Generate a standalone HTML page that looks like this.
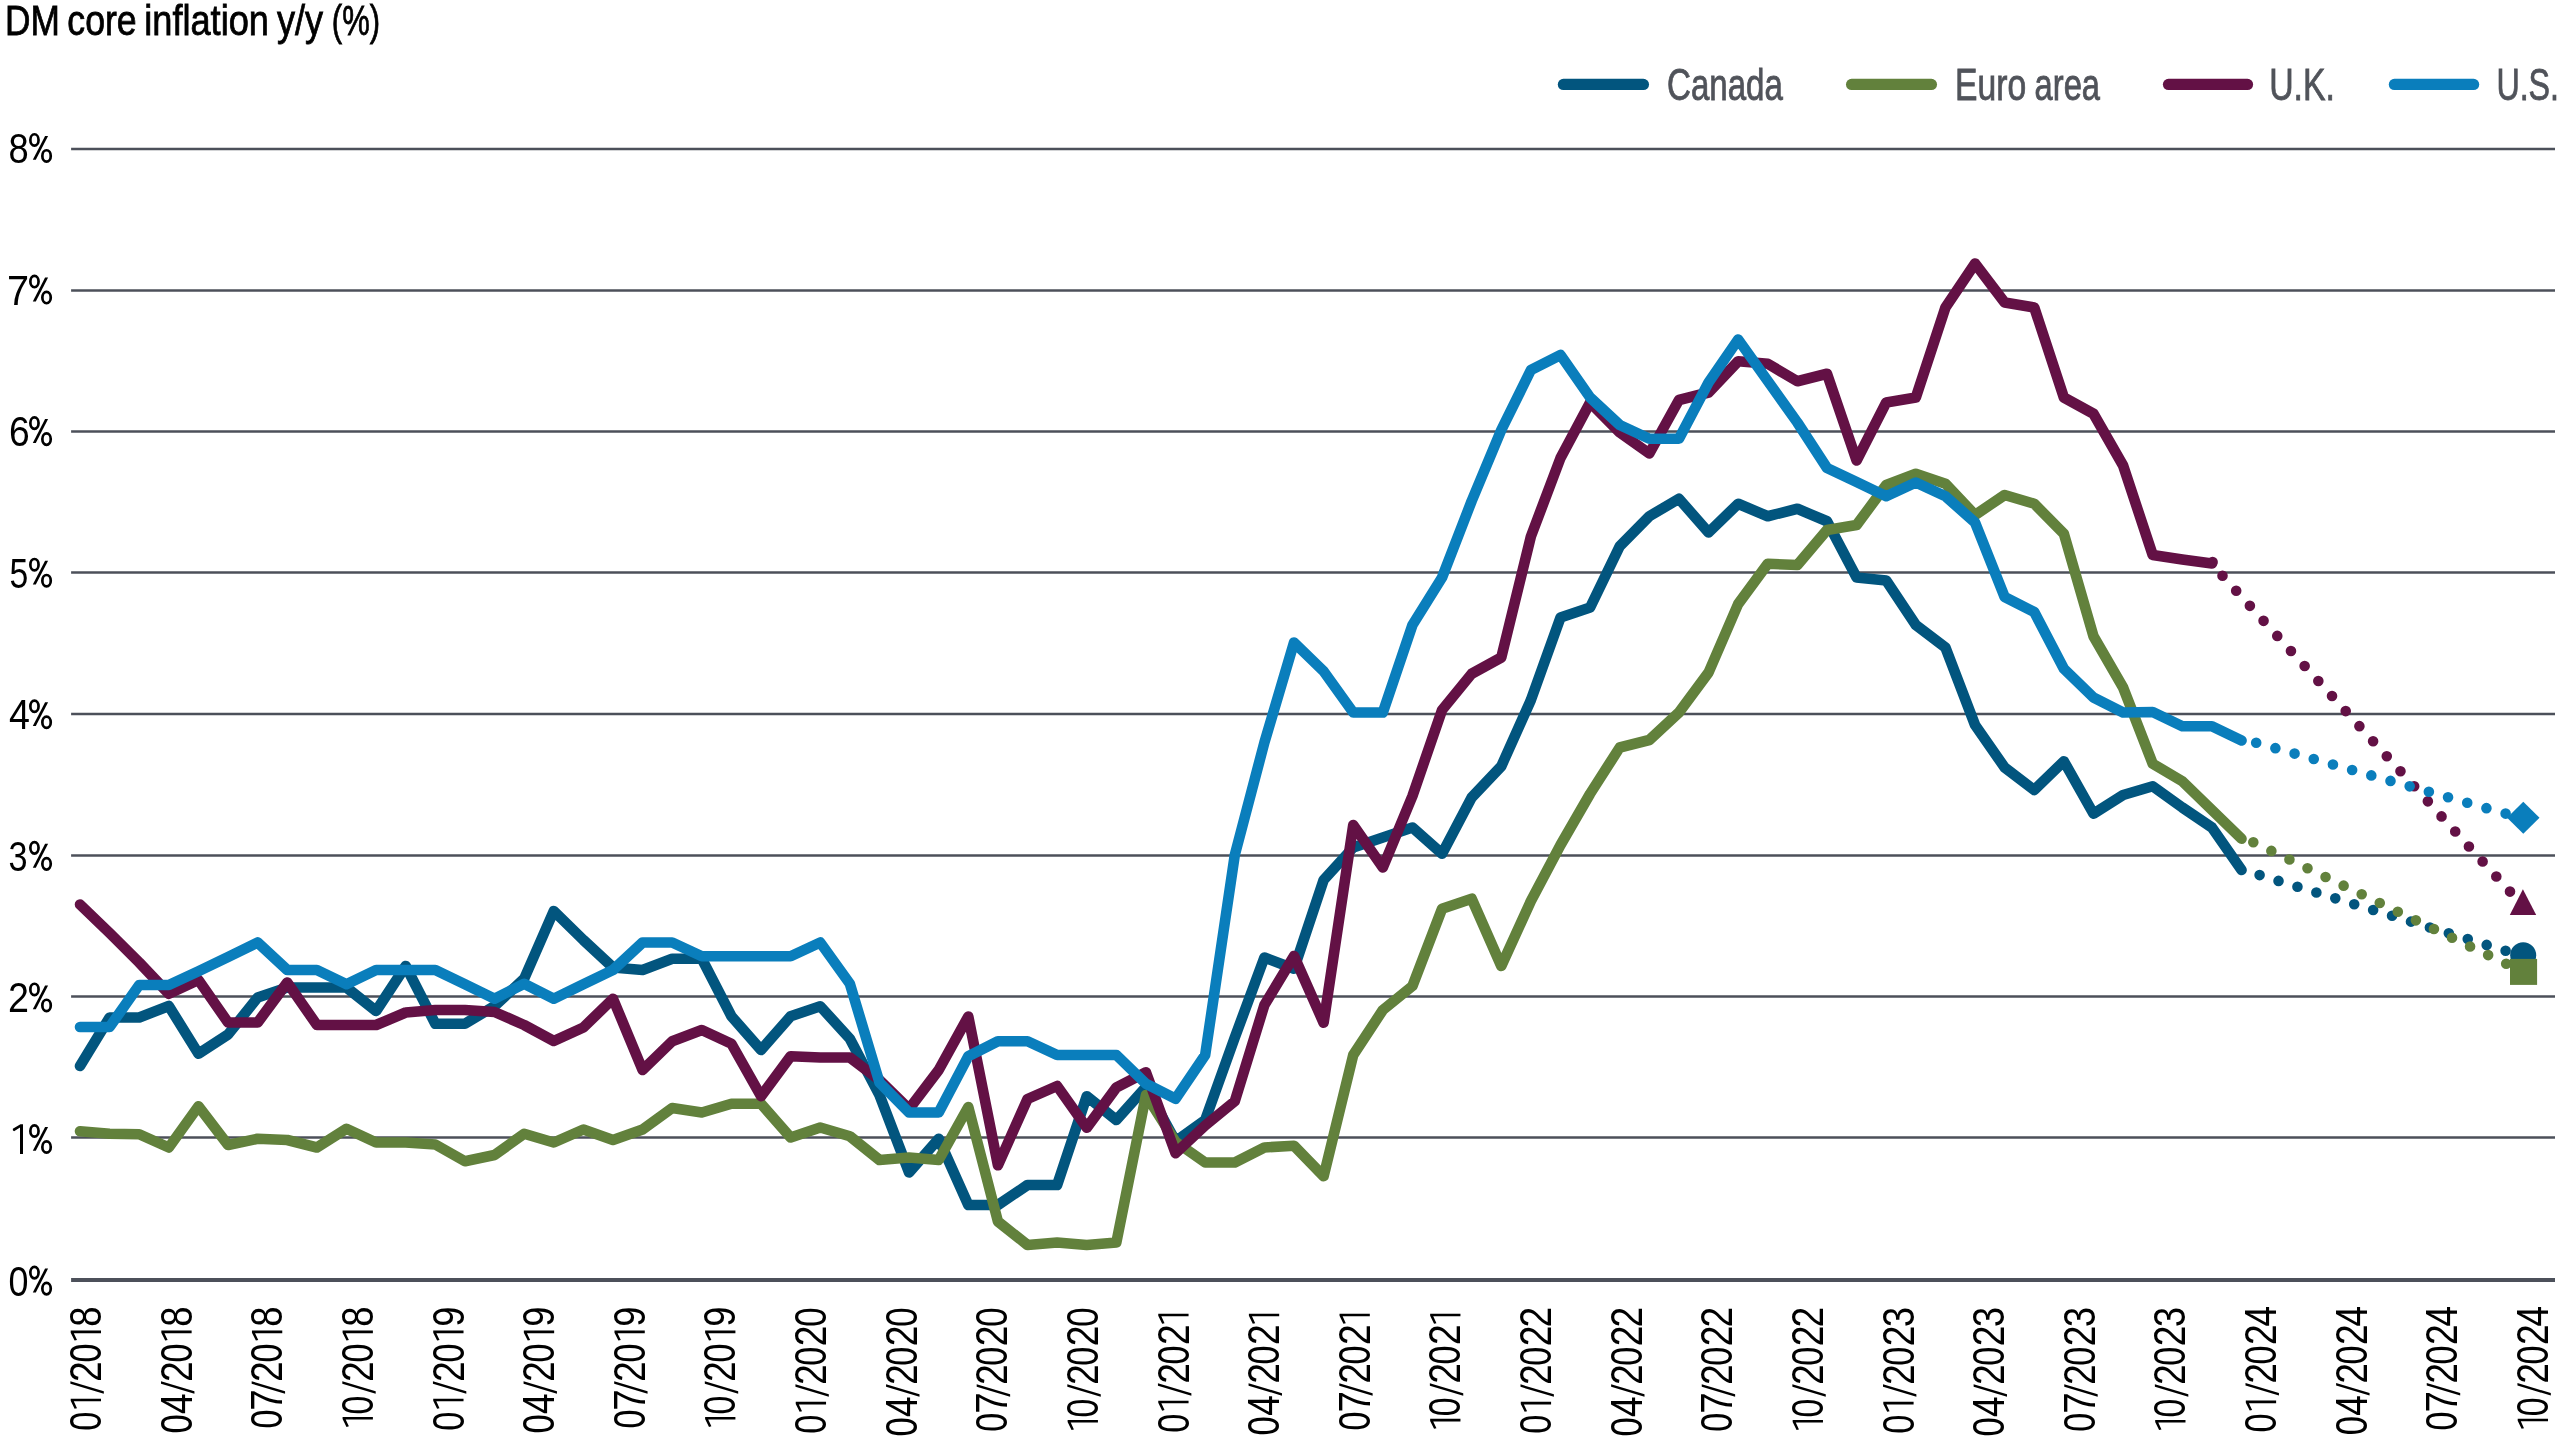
<!DOCTYPE html>
<html><head><meta charset="utf-8"><title>DM core inflation</title>
<style>html,body{margin:0;padding:0;background:#fff;}svg{display:block;will-change:transform;}text{font-family:"Liberation Sans",sans-serif;}</style>
</head><body>
<svg xmlns="http://www.w3.org/2000/svg" width="2560" height="1440" viewBox="0 0 2560 1440">
<rect width="2560" height="1440" fill="#ffffff"/>
<line x1="71.1" y1="149.00" x2="2555.0" y2="149.00" stroke="#4c505a" stroke-width="2.7"/>
<line x1="71.1" y1="290.50" x2="2555.0" y2="290.50" stroke="#4c505a" stroke-width="2.7"/>
<line x1="71.1" y1="431.50" x2="2555.0" y2="431.50" stroke="#4c505a" stroke-width="2.7"/>
<line x1="71.1" y1="572.50" x2="2555.0" y2="572.50" stroke="#4c505a" stroke-width="2.7"/>
<line x1="71.1" y1="714.00" x2="2555.0" y2="714.00" stroke="#4c505a" stroke-width="2.7"/>
<line x1="71.1" y1="855.50" x2="2555.0" y2="855.50" stroke="#4c505a" stroke-width="2.7"/>
<line x1="71.1" y1="996.50" x2="2555.0" y2="996.50" stroke="#4c505a" stroke-width="2.7"/>
<line x1="71.1" y1="1137.50" x2="2555.0" y2="1137.50" stroke="#4c505a" stroke-width="2.7"/>
<line x1="71.1" y1="1280" x2="2555.0" y2="1280" stroke="#4c505a" stroke-width="4"/>
<text transform="translate(4.94,34.80) scale(0.8166,1)" font-size="43.2" fill="#000000" stroke="#000" stroke-width="0.8">DM</text>
<text transform="translate(67.31,34.80) scale(0.8255,1)" font-size="43.2" fill="#000000" stroke="#000" stroke-width="0.8">core</text>
<text transform="translate(144.19,34.80) scale(0.8383,1)" font-size="43.2" fill="#000000" stroke="#000" stroke-width="0.8">inflation</text>
<text transform="translate(276.89,34.80) scale(0.8364,1)" font-size="43.2" fill="#000000" stroke="#000" stroke-width="0.8">y/y</text>
<text transform="translate(331.83,34.80) scale(0.7174,1)" font-size="43.2" fill="#000000" stroke="#000" stroke-width="0.8">(%)</text>
<text transform="translate(8.42,163.00) scale(0.8444,1)" font-size="43.0" fill="#000000">8</text>
<g transform="translate(0,163.00)" fill="none" stroke="#000000" stroke-width="2.7"><ellipse cx="34.45" cy="-23.05" rx="4.1" ry="5.7"/><ellipse cx="46.55" cy="-7.05" rx="4.2" ry="5.7"/><path d="M45.1,-27.1 L48.1,-27.1 L35.8,-3.2 L32.8,-3.2 Z" fill="#000000" stroke="none"/></g>
<text transform="translate(6.92,304.58) scale(0.9231,1)" font-size="43.0" fill="#000000">7</text>
<g transform="translate(0,304.58)" fill="none" stroke="#000000" stroke-width="2.7"><ellipse cx="34.45" cy="-23.05" rx="4.1" ry="5.7"/><ellipse cx="46.55" cy="-7.05" rx="4.2" ry="5.7"/><path d="M45.1,-27.1 L48.1,-27.1 L35.8,-3.2 L32.8,-3.2 Z" fill="#000000" stroke="none"/></g>
<text transform="translate(8.95,446.16) scale(0.8658,1)" font-size="43.0" fill="#000000">6</text>
<g transform="translate(0,446.16)" fill="none" stroke="#000000" stroke-width="2.7"><ellipse cx="34.45" cy="-23.05" rx="4.1" ry="5.7"/><ellipse cx="46.55" cy="-7.05" rx="4.2" ry="5.7"/><path d="M45.1,-27.1 L48.1,-27.1 L35.8,-3.2 L32.8,-3.2 Z" fill="#000000" stroke="none"/></g>
<text transform="translate(9.53,587.74) scale(0.7854,1)" font-size="43.0" fill="#000000">5</text>
<g transform="translate(0,587.74)" fill="none" stroke="#000000" stroke-width="2.7"><ellipse cx="34.45" cy="-23.05" rx="4.1" ry="5.7"/><ellipse cx="46.55" cy="-7.05" rx="4.2" ry="5.7"/><path d="M45.1,-27.1 L48.1,-27.1 L35.8,-3.2 L32.8,-3.2 Z" fill="#000000" stroke="none"/></g>
<text transform="translate(9.03,729.32) scale(0.8736,1)" font-size="43.0" fill="#000000">4</text>
<g transform="translate(0,729.32)" fill="none" stroke="#000000" stroke-width="2.7"><ellipse cx="34.45" cy="-23.05" rx="4.1" ry="5.7"/><ellipse cx="46.55" cy="-7.05" rx="4.2" ry="5.7"/><path d="M45.1,-27.1 L48.1,-27.1 L35.8,-3.2 L32.8,-3.2 Z" fill="#000000" stroke="none"/></g>
<text transform="translate(8.51,870.90) scale(0.7951,1)" font-size="43.0" fill="#000000">3</text>
<g transform="translate(0,870.90)" fill="none" stroke="#000000" stroke-width="2.7"><ellipse cx="34.45" cy="-23.05" rx="4.1" ry="5.7"/><ellipse cx="46.55" cy="-7.05" rx="4.2" ry="5.7"/><path d="M45.1,-27.1 L48.1,-27.1 L35.8,-3.2 L32.8,-3.2 Z" fill="#000000" stroke="none"/></g>
<text transform="translate(7.93,1012.48) scale(0.8769,1)" font-size="43.0" fill="#000000">2</text>
<g transform="translate(0,1012.48)" fill="none" stroke="#000000" stroke-width="2.7"><ellipse cx="34.45" cy="-23.05" rx="4.1" ry="5.7"/><ellipse cx="46.55" cy="-7.05" rx="4.2" ry="5.7"/><path d="M45.1,-27.1 L48.1,-27.1 L35.8,-3.2 L32.8,-3.2 Z" fill="#000000" stroke="none"/></g>
<path transform="translate(12.85,1154.06)" d="M7.15,0 L10.15,0 L10.15,-29.9 L7.6,-29.9 L0,-25.3 L0,-23.9 L1.2,-22.9 L7.15,-26.6 Z" fill="#000000"/>
<g transform="translate(0,1154.06)" fill="none" stroke="#000000" stroke-width="2.7"><ellipse cx="34.45" cy="-23.05" rx="4.1" ry="5.7"/><ellipse cx="46.55" cy="-7.05" rx="4.2" ry="5.7"/><path d="M45.1,-27.1 L48.1,-27.1 L35.8,-3.2 L32.8,-3.2 Z" fill="#000000" stroke="none"/></g>
<text transform="translate(8.44,1295.64) scale(0.8341,1)" font-size="43.0" fill="#000000">0</text>
<g transform="translate(0,1295.64)" fill="none" stroke="#000000" stroke-width="2.7"><ellipse cx="34.45" cy="-23.05" rx="4.1" ry="5.7"/><ellipse cx="46.55" cy="-7.05" rx="4.2" ry="5.7"/><path d="M45.1,-27.1 L48.1,-27.1 L35.8,-3.2 L32.8,-3.2 Z" fill="#000000" stroke="none"/></g>
<line x1="1563.4" y1="84.45" x2="1643.4" y2="84.45" stroke="#02557e" stroke-width="11.25" stroke-linecap="round"/>
<line x1="1851.6" y1="84.45" x2="1931.4" y2="84.45" stroke="#62813c" stroke-width="11.25" stroke-linecap="round"/>
<line x1="2168.5" y1="84.45" x2="2247.5" y2="84.45" stroke="#631145" stroke-width="11.25" stroke-linecap="round"/>
<line x1="2394.4" y1="84.45" x2="2473.6" y2="84.45" stroke="#0a7ebc" stroke-width="11.25" stroke-linecap="round"/>
<text transform="translate(1667.04,99.70) scale(0.7604,1)" font-size="43.5" fill="#50535a" stroke="#50535a" stroke-width="0.8">Canada</text>
<text transform="translate(1955.09,99.90) scale(0.7746,1)" font-size="43.5" fill="#50535a" stroke="#50535a" stroke-width="0.8">Euro</text>
<text transform="translate(2034.58,99.70) scale(0.7519,1)" font-size="43.5" fill="#50535a" stroke="#50535a" stroke-width="0.8">area</text>
<text transform="translate(2269.17,99.80) scale(0.7781,1)" font-size="43.5" fill="#50535a" stroke="#50535a" stroke-width="0.8">U.K.</text>
<text transform="translate(2496.39,99.80) scale(0.7406,1)" font-size="43.5" fill="#50535a" stroke="#50535a" stroke-width="0.8">U.S.</text>
<path d="M80.00,1066.00 L109.61,1017.50 L139.22,1017.50 L168.83,1006.00 L198.44,1053.75 L228.05,1034.50 L257.66,997.50 L287.27,987.50 L316.88,987.50 L346.49,987.50 L376.10,1011.00 L405.71,966.00 L435.32,1023.75 L464.93,1023.75 L494.54,1006.00 L524.15,978.75 L553.76,911.00 L583.37,940.00 L612.98,967.50 L642.59,970.00 L672.20,958.75 L701.81,958.75 L731.42,1016.25 L761.03,1050.00 L790.64,1016.25 L820.25,1006.25 L849.86,1038.75 L879.47,1095.00 L909.08,1172.50 L938.69,1138.75 L968.30,1205.00 L997.91,1205.00 L1027.52,1185.00 L1057.13,1185.00 L1086.74,1096.25 L1116.35,1120.00 L1145.96,1087.00 L1175.57,1141.25 L1205.18,1120.00 L1234.79,1037.50 L1264.40,957.50 L1294.01,968.75 L1323.62,880.00 L1353.23,847.50 L1382.84,837.50 L1412.45,827.50 L1442.06,853.75 L1471.67,797.50 L1501.28,766.25 L1530.89,700.00 L1560.50,617.50 L1590.11,607.50 L1619.72,546.25 L1649.33,516.25 L1678.94,498.75 L1708.55,532.50 L1738.16,503.75 L1767.77,516.25 L1797.38,508.75 L1826.99,521.25 L1856.60,577.50 L1886.21,580.50 L1915.82,625.00 L1945.43,647.50 L1975.04,725.00 L2004.65,767.50 L2034.26,790.00 L2063.87,761.25 L2093.48,813.75 L2123.09,795.00 L2152.70,786.25 L2182.31,807.50 L2211.92,827.50 L2241.53,870.00" fill="none" stroke="#02557e" stroke-width="10.6" stroke-linejoin="round" stroke-linecap="round"/>
<path d="M2259.60,875.10 L2505.98,950.82" fill="none" stroke="#02557e" stroke-width="10.6" stroke-linecap="round" stroke-dasharray="0 19.797"/>
<circle cx="2523.2" cy="955.2" r="13" fill="#02557e"/>
<path d="M80.00,1131.25 L109.61,1133.75 L139.22,1134.25 L168.83,1147.50 L198.44,1106.25 L228.05,1145.00 L257.66,1138.75 L287.27,1140.00 L316.88,1147.50 L346.49,1128.75 L376.10,1142.50 L405.71,1142.50 L435.32,1144.50 L464.93,1161.25 L494.54,1155.00 L524.15,1133.75 L553.76,1142.50 L583.37,1129.50 L612.98,1140.00 L642.59,1129.50 L672.20,1108.00 L701.81,1112.50 L731.42,1103.75 L761.03,1103.75 L790.64,1137.50 L820.25,1127.50 L849.86,1136.25 L879.47,1160.00 L909.08,1157.50 L938.69,1160.00 L968.30,1107.00 L997.91,1221.50 L1027.52,1245.00 L1057.13,1242.50 L1086.74,1245.00 L1116.35,1242.50 L1145.96,1095.00 L1175.57,1141.75 L1205.18,1162.50 L1234.79,1162.50 L1264.40,1147.50 L1294.01,1145.75 L1323.62,1176.25 L1353.23,1055.00 L1382.84,1010.00 L1412.45,986.00 L1442.06,908.75 L1471.67,898.75 L1501.28,966.00 L1530.89,901.00 L1560.50,845.00 L1590.11,793.75 L1619.72,747.50 L1649.33,740.00 L1678.94,712.50 L1708.55,672.50 L1738.16,604.00 L1767.77,563.75 L1797.38,565.00 L1826.99,530.00 L1856.60,525.00 L1886.21,485.00 L1915.82,473.75 L1945.43,483.75 L1975.04,515.00 L2004.65,495.00 L2034.26,503.75 L2063.87,533.75 L2093.48,636.25 L2123.09,687.50 L2152.70,763.75 L2182.31,781.25 L2211.92,810.00 L2241.53,838.75" fill="none" stroke="#62813c" stroke-width="10.6" stroke-linejoin="round" stroke-linecap="round"/>
<path d="M2253.30,842.20 L2506.56,963.97" fill="none" stroke="#62813c" stroke-width="10.6" stroke-linecap="round" stroke-dasharray="0 20.044"/>
<rect x="2510" y="958.9" width="27.1" height="26" fill="#62813c"/>
<path d="M80.00,904.50 L109.61,933.00 L139.22,962.50 L168.83,993.75 L198.44,980.00 L228.05,1022.50 L257.66,1022.50 L287.27,982.50 L316.88,1025.00 L346.49,1025.00 L376.10,1025.00 L405.71,1012.50 L435.32,1010.00 L464.93,1010.00 L494.54,1012.00 L524.15,1025.00 L553.76,1041.00 L583.37,1027.50 L612.98,998.75 L642.59,1070.00 L672.20,1041.25 L701.81,1030.00 L731.42,1043.75 L761.03,1096.25 L790.64,1056.25 L820.25,1057.50 L849.86,1057.50 L879.47,1080.00 L909.08,1109.00 L938.69,1070.00 L968.30,1016.50 L997.91,1165.30 L1027.52,1099.00 L1057.13,1086.00 L1086.74,1127.75 L1116.35,1087.50 L1145.96,1072.25 L1175.57,1153.25 L1205.18,1125.50 L1234.79,1101.25 L1264.40,1005.00 L1294.01,956.00 L1323.62,1022.75 L1353.23,825.00 L1382.84,867.50 L1412.45,796.00 L1442.06,710.00 L1471.67,673.75 L1501.28,657.50 L1530.89,536.50 L1560.50,458.00 L1590.11,402.50 L1619.72,432.50 L1649.33,453.50 L1678.94,400.00 L1708.55,392.50 L1738.16,361.25 L1767.77,363.75 L1797.38,381.25 L1826.99,373.75 L1856.60,460.50 L1886.21,402.50 L1915.82,397.50 L1945.43,307.50 L1975.04,263.50 L2004.65,302.50 L2034.26,307.50 L2063.87,397.50 L2093.48,413.75 L2123.09,465.50 L2152.70,555.00 L2182.31,559.50 L2211.92,563.50" fill="none" stroke="#631145" stroke-width="10.6" stroke-linejoin="round" stroke-linecap="round"/>
<circle cx="2212.6" cy="562.0" r="5.3" fill="#631145"/>
<path d="M2222.50,575.75 L2510.27,891.90" fill="none" stroke="#631145" stroke-width="10.6" stroke-linecap="round" stroke-dasharray="0 20.338"/>
<path d="M2522.9,889.3 L2536.2,915 L2509.8,915 Z" fill="#631145"/>
<path d="M80.00,1027.00 L109.61,1027.00 L139.22,985.00 L168.83,985.00 L198.44,971.25 L228.05,957.00 L257.66,942.50 L287.27,970.00 L316.88,970.00 L346.49,984.25 L376.10,970.00 L405.71,970.00 L435.32,970.00 L464.93,984.25 L494.54,998.75 L524.15,983.75 L553.76,998.75 L583.37,984.25 L612.98,970.00 L642.59,942.50 L672.20,942.50 L701.81,956.25 L731.42,956.25 L761.03,956.25 L790.64,956.25 L820.25,942.50 L849.86,983.75 L879.47,1082.50 L909.08,1112.50 L938.69,1112.50 L968.30,1056.25 L997.91,1041.25 L1027.52,1041.25 L1057.13,1055.00 L1086.74,1055.00 L1116.35,1055.00 L1145.96,1083.75 L1175.57,1098.75 L1205.18,1055.00 L1234.79,855.00 L1264.40,742.50 L1294.01,642.50 L1323.62,671.25 L1353.23,712.50 L1382.84,712.50 L1412.45,625.00 L1442.06,577.50 L1471.67,501.00 L1501.28,430.00 L1530.89,370.00 L1560.50,355.00 L1590.11,397.50 L1619.72,425.00 L1649.33,438.75 L1678.94,438.75 L1708.55,382.50 L1738.16,339.50 L1767.77,381.00 L1797.38,422.50 L1826.99,468.00 L1856.60,482.00 L1886.21,496.25 L1915.82,482.50 L1945.43,496.25 L1975.04,522.50 L2004.65,597.00 L2034.26,612.00 L2063.87,668.75 L2093.48,697.50 L2123.09,712.50 L2152.70,712.00 L2182.31,726.25 L2211.92,726.25 L2241.53,740.50" fill="none" stroke="#0a7ebc" stroke-width="10.6" stroke-linejoin="round" stroke-linecap="round"/>
<path d="M2256.20,742.70 L2505.98,813.71" fill="none" stroke="#0a7ebc" stroke-width="10.6" stroke-linecap="round" stroke-dasharray="0 19.945"/>
<path d="M2523.3,801.8 L2539.5,817.8 L2523.3,833.8 L2507.1,817.8 Z" fill="#0a7ebc"/>
<text transform="translate(101.00,1430.76) rotate(-90) scale(0.7762,1)" font-size="44.1" fill="#000000">0</text>
<path transform="translate(101.00,1408.75) rotate(-90)" d="M7.4,0 L10,0 L10,-30.3 L7.9,-30.3 L0,-26.4 L0.6,-24.0 L7.4,-27.2 Z" fill="#000000"/>
<path transform="translate(101.00,1393.75) rotate(-90)" d="M0,2.8 L2.5,2.8 L12.5,-30.6 L10,-30.6 Z" fill="#000000"/>
<text transform="translate(101.00,1381.90) rotate(-90) scale(0.8450,1)" font-size="44.1" fill="#000000">2</text>
<text transform="translate(101.00,1362.60) rotate(-90) scale(0.7738,1)" font-size="44.1" fill="#000000">0</text>
<path transform="translate(101.00,1340.60) rotate(-90)" d="M7.4,0 L10,0 L10,-30.3 L7.9,-30.3 L0,-26.4 L0.6,-24.0 L7.4,-27.2 Z" fill="#000000"/>
<text transform="translate(101.00,1326.65) rotate(-90) scale(0.8244,1)" font-size="44.1" fill="#000000">8</text>
<text transform="translate(191.63,1433.47) rotate(-90) scale(0.7857,1)" font-size="44.1" fill="#000000">0</text>
<text transform="translate(191.63,1413.94) rotate(-90) scale(0.8404,1)" font-size="44.1" fill="#000000">4</text>
<path transform="translate(191.63,1393.75) rotate(-90)" d="M0,2.8 L2.5,2.8 L12.5,-30.6 L10,-30.6 Z" fill="#000000"/>
<text transform="translate(191.63,1381.90) rotate(-90) scale(0.8450,1)" font-size="44.1" fill="#000000">2</text>
<text transform="translate(191.63,1362.60) rotate(-90) scale(0.7738,1)" font-size="44.1" fill="#000000">0</text>
<path transform="translate(191.63,1340.60) rotate(-90)" d="M7.4,0 L10,0 L10,-30.3 L7.9,-30.3 L0,-26.4 L0.6,-24.0 L7.4,-27.2 Z" fill="#000000"/>
<text transform="translate(191.63,1326.65) rotate(-90) scale(0.8244,1)" font-size="44.1" fill="#000000">8</text>
<text transform="translate(282.26,1428.60) rotate(-90) scale(0.7738,1)" font-size="44.1" fill="#000000">0</text>
<text transform="translate(282.26,1410.72) rotate(-90) scale(0.8750,1)" font-size="44.1" fill="#000000">7</text>
<path transform="translate(282.26,1393.75) rotate(-90)" d="M0,2.8 L2.5,2.8 L12.5,-30.6 L10,-30.6 Z" fill="#000000"/>
<text transform="translate(282.26,1381.90) rotate(-90) scale(0.8450,1)" font-size="44.1" fill="#000000">2</text>
<text transform="translate(282.26,1362.60) rotate(-90) scale(0.7738,1)" font-size="44.1" fill="#000000">0</text>
<path transform="translate(282.26,1340.60) rotate(-90)" d="M7.4,0 L10,0 L10,-30.3 L7.9,-30.3 L0,-26.4 L0.6,-24.0 L7.4,-27.2 Z" fill="#000000"/>
<text transform="translate(282.26,1326.65) rotate(-90) scale(0.8244,1)" font-size="44.1" fill="#000000">8</text>
<path transform="translate(372.89,1426.90) rotate(-90)" d="M7.4,0 L10,0 L10,-30.3 L7.9,-30.3 L0,-26.4 L0.6,-24.0 L7.4,-27.2 Z" fill="#000000"/>
<text transform="translate(372.89,1414.45) rotate(-90) scale(0.7714,1)" font-size="44.1" fill="#000000">0</text>
<path transform="translate(372.89,1393.75) rotate(-90)" d="M0,2.8 L2.5,2.8 L12.5,-30.6 L10,-30.6 Z" fill="#000000"/>
<text transform="translate(372.89,1381.90) rotate(-90) scale(0.8450,1)" font-size="44.1" fill="#000000">2</text>
<text transform="translate(372.89,1362.60) rotate(-90) scale(0.7738,1)" font-size="44.1" fill="#000000">0</text>
<path transform="translate(372.89,1340.60) rotate(-90)" d="M7.4,0 L10,0 L10,-30.3 L7.9,-30.3 L0,-26.4 L0.6,-24.0 L7.4,-27.2 Z" fill="#000000"/>
<text transform="translate(372.89,1326.65) rotate(-90) scale(0.8244,1)" font-size="44.1" fill="#000000">8</text>
<text transform="translate(463.52,1430.76) rotate(-90) scale(0.7762,1)" font-size="44.1" fill="#000000">0</text>
<path transform="translate(463.52,1408.75) rotate(-90)" d="M7.4,0 L10,0 L10,-30.3 L7.9,-30.3 L0,-26.4 L0.6,-24.0 L7.4,-27.2 Z" fill="#000000"/>
<path transform="translate(463.52,1393.75) rotate(-90)" d="M0,2.8 L2.5,2.8 L12.5,-30.6 L10,-30.6 Z" fill="#000000"/>
<text transform="translate(463.52,1381.90) rotate(-90) scale(0.8450,1)" font-size="44.1" fill="#000000">2</text>
<text transform="translate(463.52,1362.60) rotate(-90) scale(0.7738,1)" font-size="44.1" fill="#000000">0</text>
<path transform="translate(463.52,1340.60) rotate(-90)" d="M7.4,0 L10,0 L10,-30.3 L7.9,-30.3 L0,-26.4 L0.6,-24.0 L7.4,-27.2 Z" fill="#000000"/>
<text transform="translate(463.52,1326.65) rotate(-90) scale(0.8244,1)" font-size="44.1" fill="#000000">9</text>
<text transform="translate(554.15,1433.47) rotate(-90) scale(0.7857,1)" font-size="44.1" fill="#000000">0</text>
<text transform="translate(554.15,1413.94) rotate(-90) scale(0.8404,1)" font-size="44.1" fill="#000000">4</text>
<path transform="translate(554.15,1393.75) rotate(-90)" d="M0,2.8 L2.5,2.8 L12.5,-30.6 L10,-30.6 Z" fill="#000000"/>
<text transform="translate(554.15,1381.90) rotate(-90) scale(0.8450,1)" font-size="44.1" fill="#000000">2</text>
<text transform="translate(554.15,1362.60) rotate(-90) scale(0.7738,1)" font-size="44.1" fill="#000000">0</text>
<path transform="translate(554.15,1340.60) rotate(-90)" d="M7.4,0 L10,0 L10,-30.3 L7.9,-30.3 L0,-26.4 L0.6,-24.0 L7.4,-27.2 Z" fill="#000000"/>
<text transform="translate(554.15,1326.65) rotate(-90) scale(0.8244,1)" font-size="44.1" fill="#000000">9</text>
<text transform="translate(644.78,1428.60) rotate(-90) scale(0.7738,1)" font-size="44.1" fill="#000000">0</text>
<text transform="translate(644.78,1410.72) rotate(-90) scale(0.8750,1)" font-size="44.1" fill="#000000">7</text>
<path transform="translate(644.78,1393.75) rotate(-90)" d="M0,2.8 L2.5,2.8 L12.5,-30.6 L10,-30.6 Z" fill="#000000"/>
<text transform="translate(644.78,1381.90) rotate(-90) scale(0.8450,1)" font-size="44.1" fill="#000000">2</text>
<text transform="translate(644.78,1362.60) rotate(-90) scale(0.7738,1)" font-size="44.1" fill="#000000">0</text>
<path transform="translate(644.78,1340.60) rotate(-90)" d="M7.4,0 L10,0 L10,-30.3 L7.9,-30.3 L0,-26.4 L0.6,-24.0 L7.4,-27.2 Z" fill="#000000"/>
<text transform="translate(644.78,1326.65) rotate(-90) scale(0.8244,1)" font-size="44.1" fill="#000000">9</text>
<path transform="translate(735.41,1426.90) rotate(-90)" d="M7.4,0 L10,0 L10,-30.3 L7.9,-30.3 L0,-26.4 L0.6,-24.0 L7.4,-27.2 Z" fill="#000000"/>
<text transform="translate(735.41,1414.45) rotate(-90) scale(0.7714,1)" font-size="44.1" fill="#000000">0</text>
<path transform="translate(735.41,1393.75) rotate(-90)" d="M0,2.8 L2.5,2.8 L12.5,-30.6 L10,-30.6 Z" fill="#000000"/>
<text transform="translate(735.41,1381.90) rotate(-90) scale(0.8450,1)" font-size="44.1" fill="#000000">2</text>
<text transform="translate(735.41,1362.60) rotate(-90) scale(0.7738,1)" font-size="44.1" fill="#000000">0</text>
<path transform="translate(735.41,1340.60) rotate(-90)" d="M7.4,0 L10,0 L10,-30.3 L7.9,-30.3 L0,-26.4 L0.6,-24.0 L7.4,-27.2 Z" fill="#000000"/>
<text transform="translate(735.41,1326.65) rotate(-90) scale(0.8244,1)" font-size="44.1" fill="#000000">9</text>
<text transform="translate(826.04,1433.86) rotate(-90) scale(0.7762,1)" font-size="44.1" fill="#000000">0</text>
<path transform="translate(826.04,1411.85) rotate(-90)" d="M7.4,0 L10,0 L10,-30.3 L7.9,-30.3 L0,-26.4 L0.6,-24.0 L7.4,-27.2 Z" fill="#000000"/>
<path transform="translate(826.04,1396.85) rotate(-90)" d="M0,2.8 L2.5,2.8 L12.5,-30.6 L10,-30.6 Z" fill="#000000"/>
<text transform="translate(826.04,1385.00) rotate(-90) scale(0.8450,1)" font-size="44.1" fill="#000000">2</text>
<text transform="translate(826.04,1365.70) rotate(-90) scale(0.7738,1)" font-size="44.1" fill="#000000">0</text>
<text transform="translate(826.04,1346.25) rotate(-90) scale(0.8425,1)" font-size="44.1" fill="#000000">2</text>
<text transform="translate(826.04,1326.96) rotate(-90) scale(0.8048,1)" font-size="44.1" fill="#000000">0</text>
<text transform="translate(916.67,1436.57) rotate(-90) scale(0.7857,1)" font-size="44.1" fill="#000000">0</text>
<text transform="translate(916.67,1417.04) rotate(-90) scale(0.8404,1)" font-size="44.1" fill="#000000">4</text>
<path transform="translate(916.67,1396.85) rotate(-90)" d="M0,2.8 L2.5,2.8 L12.5,-30.6 L10,-30.6 Z" fill="#000000"/>
<text transform="translate(916.67,1385.00) rotate(-90) scale(0.8450,1)" font-size="44.1" fill="#000000">2</text>
<text transform="translate(916.67,1365.70) rotate(-90) scale(0.7738,1)" font-size="44.1" fill="#000000">0</text>
<text transform="translate(916.67,1346.25) rotate(-90) scale(0.8425,1)" font-size="44.1" fill="#000000">2</text>
<text transform="translate(916.67,1326.96) rotate(-90) scale(0.8048,1)" font-size="44.1" fill="#000000">0</text>
<text transform="translate(1007.30,1431.70) rotate(-90) scale(0.7738,1)" font-size="44.1" fill="#000000">0</text>
<text transform="translate(1007.30,1413.82) rotate(-90) scale(0.8750,1)" font-size="44.1" fill="#000000">7</text>
<path transform="translate(1007.30,1396.85) rotate(-90)" d="M0,2.8 L2.5,2.8 L12.5,-30.6 L10,-30.6 Z" fill="#000000"/>
<text transform="translate(1007.30,1385.00) rotate(-90) scale(0.8450,1)" font-size="44.1" fill="#000000">2</text>
<text transform="translate(1007.30,1365.70) rotate(-90) scale(0.7738,1)" font-size="44.1" fill="#000000">0</text>
<text transform="translate(1007.30,1346.25) rotate(-90) scale(0.8425,1)" font-size="44.1" fill="#000000">2</text>
<text transform="translate(1007.30,1326.96) rotate(-90) scale(0.8048,1)" font-size="44.1" fill="#000000">0</text>
<path transform="translate(1097.93,1430.00) rotate(-90)" d="M7.4,0 L10,0 L10,-30.3 L7.9,-30.3 L0,-26.4 L0.6,-24.0 L7.4,-27.2 Z" fill="#000000"/>
<text transform="translate(1097.93,1417.55) rotate(-90) scale(0.7714,1)" font-size="44.1" fill="#000000">0</text>
<path transform="translate(1097.93,1396.85) rotate(-90)" d="M0,2.8 L2.5,2.8 L12.5,-30.6 L10,-30.6 Z" fill="#000000"/>
<text transform="translate(1097.93,1385.00) rotate(-90) scale(0.8450,1)" font-size="44.1" fill="#000000">2</text>
<text transform="translate(1097.93,1365.70) rotate(-90) scale(0.7738,1)" font-size="44.1" fill="#000000">0</text>
<text transform="translate(1097.93,1346.25) rotate(-90) scale(0.8425,1)" font-size="44.1" fill="#000000">2</text>
<text transform="translate(1097.93,1326.96) rotate(-90) scale(0.8048,1)" font-size="44.1" fill="#000000">0</text>
<text transform="translate(1188.56,1432.66) rotate(-90) scale(0.7762,1)" font-size="44.1" fill="#000000">0</text>
<path transform="translate(1188.56,1410.65) rotate(-90)" d="M7.4,0 L10,0 L10,-30.3 L7.9,-30.3 L0,-26.4 L0.6,-24.0 L7.4,-27.2 Z" fill="#000000"/>
<path transform="translate(1188.56,1395.65) rotate(-90)" d="M0,2.8 L2.5,2.8 L12.5,-30.6 L10,-30.6 Z" fill="#000000"/>
<text transform="translate(1188.56,1383.80) rotate(-90) scale(0.8450,1)" font-size="44.1" fill="#000000">2</text>
<text transform="translate(1188.56,1364.50) rotate(-90) scale(0.7738,1)" font-size="44.1" fill="#000000">0</text>
<text transform="translate(1188.56,1345.05) rotate(-90) scale(0.8425,1)" font-size="44.1" fill="#000000">2</text>
<path transform="translate(1188.56,1323.75) rotate(-90)" d="M7.4,0 L10,0 L10,-30.3 L7.9,-30.3 L0,-26.4 L0.6,-24.0 L7.4,-27.2 Z" fill="#000000"/>
<text transform="translate(1279.19,1435.38) rotate(-90) scale(0.7857,1)" font-size="44.1" fill="#000000">0</text>
<text transform="translate(1279.19,1415.84) rotate(-90) scale(0.8404,1)" font-size="44.1" fill="#000000">4</text>
<path transform="translate(1279.19,1395.65) rotate(-90)" d="M0,2.8 L2.5,2.8 L12.5,-30.6 L10,-30.6 Z" fill="#000000"/>
<text transform="translate(1279.19,1383.80) rotate(-90) scale(0.8450,1)" font-size="44.1" fill="#000000">2</text>
<text transform="translate(1279.19,1364.50) rotate(-90) scale(0.7738,1)" font-size="44.1" fill="#000000">0</text>
<text transform="translate(1279.19,1345.05) rotate(-90) scale(0.8425,1)" font-size="44.1" fill="#000000">2</text>
<path transform="translate(1279.19,1323.75) rotate(-90)" d="M7.4,0 L10,0 L10,-30.3 L7.9,-30.3 L0,-26.4 L0.6,-24.0 L7.4,-27.2 Z" fill="#000000"/>
<text transform="translate(1369.82,1430.50) rotate(-90) scale(0.7738,1)" font-size="44.1" fill="#000000">0</text>
<text transform="translate(1369.82,1412.62) rotate(-90) scale(0.8750,1)" font-size="44.1" fill="#000000">7</text>
<path transform="translate(1369.82,1395.65) rotate(-90)" d="M0,2.8 L2.5,2.8 L12.5,-30.6 L10,-30.6 Z" fill="#000000"/>
<text transform="translate(1369.82,1383.80) rotate(-90) scale(0.8450,1)" font-size="44.1" fill="#000000">2</text>
<text transform="translate(1369.82,1364.50) rotate(-90) scale(0.7738,1)" font-size="44.1" fill="#000000">0</text>
<text transform="translate(1369.82,1345.05) rotate(-90) scale(0.8425,1)" font-size="44.1" fill="#000000">2</text>
<path transform="translate(1369.82,1323.75) rotate(-90)" d="M7.4,0 L10,0 L10,-30.3 L7.9,-30.3 L0,-26.4 L0.6,-24.0 L7.4,-27.2 Z" fill="#000000"/>
<path transform="translate(1460.45,1428.80) rotate(-90)" d="M7.4,0 L10,0 L10,-30.3 L7.9,-30.3 L0,-26.4 L0.6,-24.0 L7.4,-27.2 Z" fill="#000000"/>
<text transform="translate(1460.45,1416.35) rotate(-90) scale(0.7714,1)" font-size="44.1" fill="#000000">0</text>
<path transform="translate(1460.45,1395.65) rotate(-90)" d="M0,2.8 L2.5,2.8 L12.5,-30.6 L10,-30.6 Z" fill="#000000"/>
<text transform="translate(1460.45,1383.80) rotate(-90) scale(0.8450,1)" font-size="44.1" fill="#000000">2</text>
<text transform="translate(1460.45,1364.50) rotate(-90) scale(0.7738,1)" font-size="44.1" fill="#000000">0</text>
<text transform="translate(1460.45,1345.05) rotate(-90) scale(0.8425,1)" font-size="44.1" fill="#000000">2</text>
<path transform="translate(1460.45,1323.75) rotate(-90)" d="M7.4,0 L10,0 L10,-30.3 L7.9,-30.3 L0,-26.4 L0.6,-24.0 L7.4,-27.2 Z" fill="#000000"/>
<text transform="translate(1551.08,1433.86) rotate(-90) scale(0.7762,1)" font-size="44.1" fill="#000000">0</text>
<path transform="translate(1551.08,1411.85) rotate(-90)" d="M7.4,0 L10,0 L10,-30.3 L7.9,-30.3 L0,-26.4 L0.6,-24.0 L7.4,-27.2 Z" fill="#000000"/>
<path transform="translate(1551.08,1396.85) rotate(-90)" d="M0,2.8 L2.5,2.8 L12.5,-30.6 L10,-30.6 Z" fill="#000000"/>
<text transform="translate(1551.08,1385.00) rotate(-90) scale(0.8450,1)" font-size="44.1" fill="#000000">2</text>
<text transform="translate(1551.08,1365.70) rotate(-90) scale(0.7738,1)" font-size="44.1" fill="#000000">0</text>
<text transform="translate(1551.08,1346.25) rotate(-90) scale(0.8425,1)" font-size="44.1" fill="#000000">2</text>
<text transform="translate(1551.08,1327.45) rotate(-90) scale(0.8450,1)" font-size="44.1" fill="#000000">2</text>
<text transform="translate(1641.71,1436.57) rotate(-90) scale(0.7857,1)" font-size="44.1" fill="#000000">0</text>
<text transform="translate(1641.71,1417.04) rotate(-90) scale(0.8404,1)" font-size="44.1" fill="#000000">4</text>
<path transform="translate(1641.71,1396.85) rotate(-90)" d="M0,2.8 L2.5,2.8 L12.5,-30.6 L10,-30.6 Z" fill="#000000"/>
<text transform="translate(1641.71,1385.00) rotate(-90) scale(0.8450,1)" font-size="44.1" fill="#000000">2</text>
<text transform="translate(1641.71,1365.70) rotate(-90) scale(0.7738,1)" font-size="44.1" fill="#000000">0</text>
<text transform="translate(1641.71,1346.25) rotate(-90) scale(0.8425,1)" font-size="44.1" fill="#000000">2</text>
<text transform="translate(1641.71,1327.45) rotate(-90) scale(0.8450,1)" font-size="44.1" fill="#000000">2</text>
<text transform="translate(1732.34,1431.70) rotate(-90) scale(0.7738,1)" font-size="44.1" fill="#000000">0</text>
<text transform="translate(1732.34,1413.82) rotate(-90) scale(0.8750,1)" font-size="44.1" fill="#000000">7</text>
<path transform="translate(1732.34,1396.85) rotate(-90)" d="M0,2.8 L2.5,2.8 L12.5,-30.6 L10,-30.6 Z" fill="#000000"/>
<text transform="translate(1732.34,1385.00) rotate(-90) scale(0.8450,1)" font-size="44.1" fill="#000000">2</text>
<text transform="translate(1732.34,1365.70) rotate(-90) scale(0.7738,1)" font-size="44.1" fill="#000000">0</text>
<text transform="translate(1732.34,1346.25) rotate(-90) scale(0.8425,1)" font-size="44.1" fill="#000000">2</text>
<text transform="translate(1732.34,1327.45) rotate(-90) scale(0.8450,1)" font-size="44.1" fill="#000000">2</text>
<path transform="translate(1822.97,1430.00) rotate(-90)" d="M7.4,0 L10,0 L10,-30.3 L7.9,-30.3 L0,-26.4 L0.6,-24.0 L7.4,-27.2 Z" fill="#000000"/>
<text transform="translate(1822.97,1417.55) rotate(-90) scale(0.7714,1)" font-size="44.1" fill="#000000">0</text>
<path transform="translate(1822.97,1396.85) rotate(-90)" d="M0,2.8 L2.5,2.8 L12.5,-30.6 L10,-30.6 Z" fill="#000000"/>
<text transform="translate(1822.97,1385.00) rotate(-90) scale(0.8450,1)" font-size="44.1" fill="#000000">2</text>
<text transform="translate(1822.97,1365.70) rotate(-90) scale(0.7738,1)" font-size="44.1" fill="#000000">0</text>
<text transform="translate(1822.97,1346.25) rotate(-90) scale(0.8425,1)" font-size="44.1" fill="#000000">2</text>
<text transform="translate(1822.97,1327.45) rotate(-90) scale(0.8450,1)" font-size="44.1" fill="#000000">2</text>
<text transform="translate(1913.60,1433.86) rotate(-90) scale(0.7762,1)" font-size="44.1" fill="#000000">0</text>
<path transform="translate(1913.60,1411.85) rotate(-90)" d="M7.4,0 L10,0 L10,-30.3 L7.9,-30.3 L0,-26.4 L0.6,-24.0 L7.4,-27.2 Z" fill="#000000"/>
<path transform="translate(1913.60,1396.85) rotate(-90)" d="M0,2.8 L2.5,2.8 L12.5,-30.6 L10,-30.6 Z" fill="#000000"/>
<text transform="translate(1913.60,1385.00) rotate(-90) scale(0.8450,1)" font-size="44.1" fill="#000000">2</text>
<text transform="translate(1913.60,1365.70) rotate(-90) scale(0.7738,1)" font-size="44.1" fill="#000000">0</text>
<text transform="translate(1913.60,1346.25) rotate(-90) scale(0.8425,1)" font-size="44.1" fill="#000000">2</text>
<text transform="translate(1913.60,1326.98) rotate(-90) scale(0.8145,1)" font-size="44.1" fill="#000000">3</text>
<text transform="translate(2004.23,1436.57) rotate(-90) scale(0.7857,1)" font-size="44.1" fill="#000000">0</text>
<text transform="translate(2004.23,1417.04) rotate(-90) scale(0.8404,1)" font-size="44.1" fill="#000000">4</text>
<path transform="translate(2004.23,1396.85) rotate(-90)" d="M0,2.8 L2.5,2.8 L12.5,-30.6 L10,-30.6 Z" fill="#000000"/>
<text transform="translate(2004.23,1385.00) rotate(-90) scale(0.8450,1)" font-size="44.1" fill="#000000">2</text>
<text transform="translate(2004.23,1365.70) rotate(-90) scale(0.7738,1)" font-size="44.1" fill="#000000">0</text>
<text transform="translate(2004.23,1346.25) rotate(-90) scale(0.8425,1)" font-size="44.1" fill="#000000">2</text>
<text transform="translate(2004.23,1326.98) rotate(-90) scale(0.8145,1)" font-size="44.1" fill="#000000">3</text>
<text transform="translate(2094.86,1431.70) rotate(-90) scale(0.7738,1)" font-size="44.1" fill="#000000">0</text>
<text transform="translate(2094.86,1413.82) rotate(-90) scale(0.8750,1)" font-size="44.1" fill="#000000">7</text>
<path transform="translate(2094.86,1396.85) rotate(-90)" d="M0,2.8 L2.5,2.8 L12.5,-30.6 L10,-30.6 Z" fill="#000000"/>
<text transform="translate(2094.86,1385.00) rotate(-90) scale(0.8450,1)" font-size="44.1" fill="#000000">2</text>
<text transform="translate(2094.86,1365.70) rotate(-90) scale(0.7738,1)" font-size="44.1" fill="#000000">0</text>
<text transform="translate(2094.86,1346.25) rotate(-90) scale(0.8425,1)" font-size="44.1" fill="#000000">2</text>
<text transform="translate(2094.86,1326.98) rotate(-90) scale(0.8145,1)" font-size="44.1" fill="#000000">3</text>
<path transform="translate(2185.49,1430.00) rotate(-90)" d="M7.4,0 L10,0 L10,-30.3 L7.9,-30.3 L0,-26.4 L0.6,-24.0 L7.4,-27.2 Z" fill="#000000"/>
<text transform="translate(2185.49,1417.55) rotate(-90) scale(0.7714,1)" font-size="44.1" fill="#000000">0</text>
<path transform="translate(2185.49,1396.85) rotate(-90)" d="M0,2.8 L2.5,2.8 L12.5,-30.6 L10,-30.6 Z" fill="#000000"/>
<text transform="translate(2185.49,1385.00) rotate(-90) scale(0.8450,1)" font-size="44.1" fill="#000000">2</text>
<text transform="translate(2185.49,1365.70) rotate(-90) scale(0.7738,1)" font-size="44.1" fill="#000000">0</text>
<text transform="translate(2185.49,1346.25) rotate(-90) scale(0.8425,1)" font-size="44.1" fill="#000000">2</text>
<text transform="translate(2185.49,1326.98) rotate(-90) scale(0.8145,1)" font-size="44.1" fill="#000000">3</text>
<text transform="translate(2276.12,1432.61) rotate(-90) scale(0.7762,1)" font-size="44.1" fill="#000000">0</text>
<path transform="translate(2276.12,1410.60) rotate(-90)" d="M7.4,0 L10,0 L10,-30.3 L7.9,-30.3 L0,-26.4 L0.6,-24.0 L7.4,-27.2 Z" fill="#000000"/>
<path transform="translate(2276.12,1395.60) rotate(-90)" d="M0,2.8 L2.5,2.8 L12.5,-30.6 L10,-30.6 Z" fill="#000000"/>
<text transform="translate(2276.12,1383.75) rotate(-90) scale(0.8450,1)" font-size="44.1" fill="#000000">2</text>
<text transform="translate(2276.12,1364.45) rotate(-90) scale(0.7738,1)" font-size="44.1" fill="#000000">0</text>
<text transform="translate(2276.12,1345.00) rotate(-90) scale(0.8425,1)" font-size="44.1" fill="#000000">2</text>
<text transform="translate(2276.12,1326.44) rotate(-90) scale(0.8404,1)" font-size="44.1" fill="#000000">4</text>
<text transform="translate(2366.75,1435.32) rotate(-90) scale(0.7857,1)" font-size="44.1" fill="#000000">0</text>
<text transform="translate(2366.75,1415.79) rotate(-90) scale(0.8404,1)" font-size="44.1" fill="#000000">4</text>
<path transform="translate(2366.75,1395.60) rotate(-90)" d="M0,2.8 L2.5,2.8 L12.5,-30.6 L10,-30.6 Z" fill="#000000"/>
<text transform="translate(2366.75,1383.75) rotate(-90) scale(0.8450,1)" font-size="44.1" fill="#000000">2</text>
<text transform="translate(2366.75,1364.45) rotate(-90) scale(0.7738,1)" font-size="44.1" fill="#000000">0</text>
<text transform="translate(2366.75,1345.00) rotate(-90) scale(0.8425,1)" font-size="44.1" fill="#000000">2</text>
<text transform="translate(2366.75,1326.44) rotate(-90) scale(0.8404,1)" font-size="44.1" fill="#000000">4</text>
<text transform="translate(2457.38,1430.45) rotate(-90) scale(0.7738,1)" font-size="44.1" fill="#000000">0</text>
<text transform="translate(2457.38,1412.57) rotate(-90) scale(0.8750,1)" font-size="44.1" fill="#000000">7</text>
<path transform="translate(2457.38,1395.60) rotate(-90)" d="M0,2.8 L2.5,2.8 L12.5,-30.6 L10,-30.6 Z" fill="#000000"/>
<text transform="translate(2457.38,1383.75) rotate(-90) scale(0.8450,1)" font-size="44.1" fill="#000000">2</text>
<text transform="translate(2457.38,1364.45) rotate(-90) scale(0.7738,1)" font-size="44.1" fill="#000000">0</text>
<text transform="translate(2457.38,1345.00) rotate(-90) scale(0.8425,1)" font-size="44.1" fill="#000000">2</text>
<text transform="translate(2457.38,1326.44) rotate(-90) scale(0.8404,1)" font-size="44.1" fill="#000000">4</text>
<path transform="translate(2548.01,1428.75) rotate(-90)" d="M7.4,0 L10,0 L10,-30.3 L7.9,-30.3 L0,-26.4 L0.6,-24.0 L7.4,-27.2 Z" fill="#000000"/>
<text transform="translate(2548.01,1416.30) rotate(-90) scale(0.7714,1)" font-size="44.1" fill="#000000">0</text>
<path transform="translate(2548.01,1395.60) rotate(-90)" d="M0,2.8 L2.5,2.8 L12.5,-30.6 L10,-30.6 Z" fill="#000000"/>
<text transform="translate(2548.01,1383.75) rotate(-90) scale(0.8450,1)" font-size="44.1" fill="#000000">2</text>
<text transform="translate(2548.01,1364.45) rotate(-90) scale(0.7738,1)" font-size="44.1" fill="#000000">0</text>
<text transform="translate(2548.01,1345.00) rotate(-90) scale(0.8425,1)" font-size="44.1" fill="#000000">2</text>
<text transform="translate(2548.01,1326.44) rotate(-90) scale(0.8404,1)" font-size="44.1" fill="#000000">4</text>
</svg></body></html>
